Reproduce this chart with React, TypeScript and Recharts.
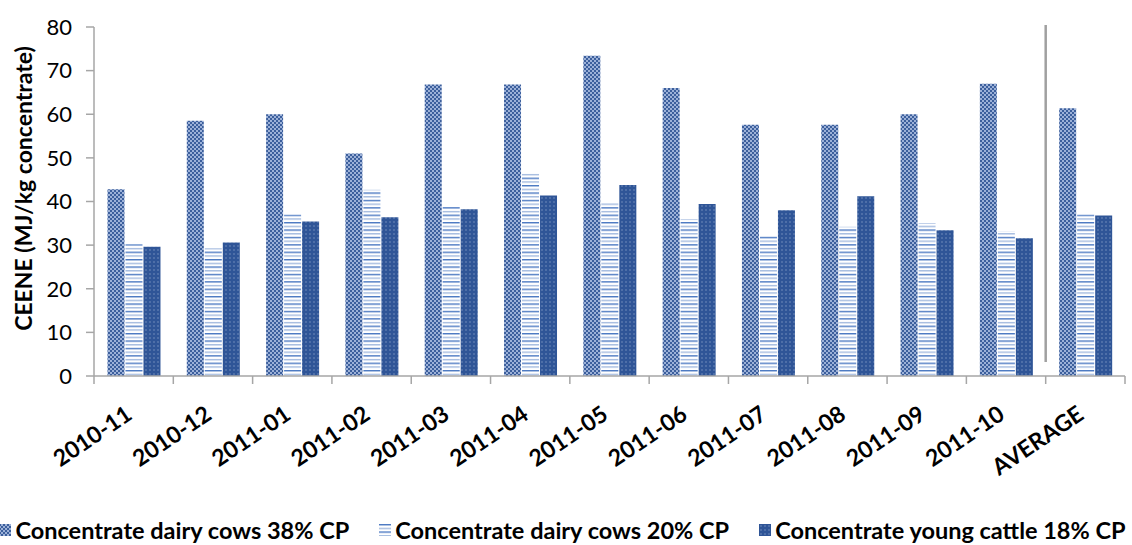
import React from 'react';
import {
  BarChart, Bar, XAxis, YAxis, Legend, ReferenceLine
} from 'recharts';

const months = [
  '2010-11', '2010-12', '2011-01', '2011-02', '2011-03', '2011-04', '2011-05',
  '2011-06', '2011-07', '2011-08', '2011-09', '2011-10', 'AVERAGE',
];
const cows38 = [42.8, 58.5, 60.0, 51.0, 66.8, 66.8, 73.4, 66.0, 57.6, 57.6, 60.0, 67.0, 61.4];
const cows20 = [30.2, 29.3, 37.0, 42.7, 38.8, 46.4, 39.8, 36.0, 32.2, 34.2, 35.0, 33.2, 37.0];
const young18 = [29.6, 30.6, 35.4, 36.4, 38.2, 41.4, 43.8, 39.4, 38.0, 41.2, 33.4, 31.6, 36.8];
const yTicks = [0, 10, 20, 30, 40, 50, 60, 70, 80];

const seriesNames = [
  'Concentrate dairy cows 38% CP',
  'Concentrate dairy cows 20% CP',
  'Concentrate young cattle 18% CP',
];

const data = months.map((m, i) => ({
  month: m,
  c38: cows38[i],
  c20: cows20[i],
  y18: young18[i],
}));

const W = 1132;
const H = 545;
const Y_AXIS_W = 94;
const RIGHT = 7;
const STEP = (W - Y_AXIS_W - RIGHT) / months.length;
const FONT = 'Lato, "Open Sans", sans-serif';
const AXIS = '#a6a6a6';

const fills = ['url(#pat38)', 'url(#pat20)', 'url(#pat18)'];

const MonthTick = ({ x, y, payload, index }: any) => {
  const left = x - STEP / 2;
  const right = x + STEP / 2;
  const tx = x;
  const ty = y + 34;
  return (
    <g>
      <line x1={left} y1={y - 8} x2={left} y2={y} stroke={AXIS} strokeWidth={1.5} />
      {index === months.length - 1 && (
        <line x1={right} y1={y - 8} x2={right} y2={y} stroke={AXIS} strokeWidth={1.5} />
      )}
      <text
        x={tx}
        y={ty}
        textAnchor="end"
        transform={`rotate(-34, ${tx}, ${ty})`}
        fontFamily={FONT}
        fontWeight={700}
        fontSize={23}
        fill="#000"
      >
        {payload.value}
      </text>
    </g>
  );
};

const LegendSwatch = ({ i }: { i: number }) => (
  <svg width={12} height={12} style={{ marginRight: 4 }}>
    <rect x={0} y={0} width={12} height={12} fill={fills[i]} />
  </svg>
);

const renderLegend = () => (
  <div style={{
    display: 'flex', justifyContent: 'center', alignItems: 'center', gap: 30,
    height: 30, paddingTop: 9, fontFamily: FONT, fontWeight: 700, fontSize: 23.5,
    color: '#000', whiteSpace: 'nowrap',
  }}>
    {seriesNames.map((n, i) => (
      <span key={n} style={{ display: 'flex', alignItems: 'center' }}>
        <LegendSwatch i={i} />{n}
      </span>
    ))}
  </div>
);

const YTitle = ({ viewBox }: any) => {
  const cx = 23;
  const cy = viewBox.y + viewBox.height / 2 - 13;
  return (
    <text
      x={cx} y={cy}
      transform={`rotate(-90, ${cx}, ${cy})`}
      textAnchor="middle" dominantBaseline="central"
      fontFamily={FONT} fontWeight={700} fontSize={23} fill="#000"
    >
      CEENE (MJ/kg concentrate)
    </text>
  );
};

// The separator before the average column reaches a little above the plot
const Separator = (props: any) => {
  const { x1, y1, y2 } = props;
  return <line x1={x1} y1={y1 - 14} x2={x1} y2={y2 - 2} stroke="#a0a0a0" strokeWidth={2.5} />;
};

export default function App() {
  return (
    <div style={{ position: 'absolute', left: 0, top: 0, background: '#fff' }}>
      <BarChart
        width={W}
        height={H}
        data={data}
        margin={{ top: 27, right: RIGHT, left: 0, bottom: 0 }}
        barCategoryGap="17%"
        barGap={1}
      >
        <defs>
          <pattern id="pat38" width={4} height={4} patternUnits="userSpaceOnUse">
            <rect width={4} height={4} fill="#9cb1d8" />
            <rect x={0} y={0} width={2} height={2} fill="#3c5f9c" />
            <rect x={2} y={2} width={2} height={2} fill="#3c5f9c" />
          </pattern>
          <pattern id="pat20" width={6} height={7.4} patternUnits="userSpaceOnUse">
            <rect width={6} height={7.4} fill="#ffffff" />
            <rect x={0} y={0} width={6} height={1.4} fill="#4a78c2" />
            <rect x={0} y={3.7} width={6} height={1.4} fill="#a3badf" />
          </pattern>
          <pattern id="pat18" width={4} height={4} patternUnits="userSpaceOnUse">
            <rect width={4} height={4} fill="#2f5597" />
            <rect x={1.5} y={1.5} width={1} height={1} fill="#a9bbdc" />
          </pattern>
        </defs>
        <XAxis
          dataKey="month"
          interval={0}
          height={130}
          axisLine={{ stroke: AXIS, strokeWidth: 1.5 }}
          tickLine={false}
          tick={<MonthTick />}
        />
        <YAxis
          width={Y_AXIS_W}
          domain={[0, 80]}
          ticks={yTicks}
          interval={0}
          axisLine={{ stroke: AXIS, strokeWidth: 1.5 }}
          tickLine={{ stroke: AXIS, strokeWidth: 1.5 }}
          tickSize={8}
          tickMargin={14}
          tick={{ fontFamily: FONT, fontSize: 22, fill: '#000' }}
          label={<YTitle />}
        />
        <ReferenceLine x="AVERAGE" position="start" shape={<Separator />} ifOverflow="visible" />
        <Legend verticalAlign="bottom" content={renderLegend} wrapperStyle={{ height: 39 }} />
        <Bar dataKey="c38" name={seriesNames[0]} fill={fills[0]} isAnimationActive={false} />
        <Bar dataKey="c20" name={seriesNames[1]} fill={fills[1]} isAnimationActive={false} />
        <Bar dataKey="y18" name={seriesNames[2]} fill={fills[2]} isAnimationActive={false} />
      </BarChart>
    </div>
  );
}
